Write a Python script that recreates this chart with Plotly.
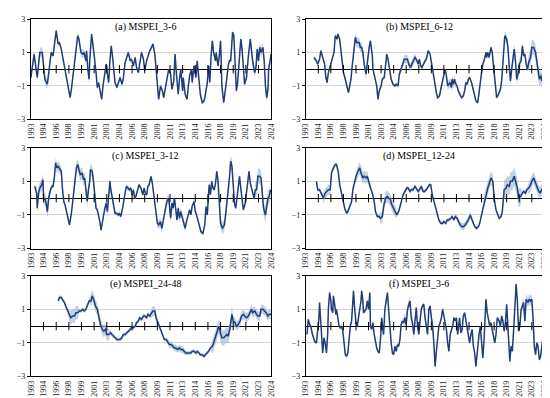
import numpy as np
import plotly.graph_objects as go

# ---------------- axis ticks (months since Jan 1993) ----------------
tick_months = [0, 20, 40, 60, 80, 100, 120, 140, 160, 180, 200, 220, 240, 260, 280, 300, 320, 340, 360, 380]
tick_labels = ["1993", "1994", "1996", "1998", "1999", "2001", "2003", "2004", "2006", "2008",
               "2009", "2011", "2013", "2014", "2016", "2018", "2019", "2021", "2023", "2024"]

titles = ["(a) MSPEI_3-6", "(b) MSPEI_6-12", "(c) MSPEI_3-12",
          "(d) MSPEI_12-24", "(e) MSPEI_24-48", "(f) MSPEI_3-6"]

# ---------------- (a) ----------------
a_month = [0, 5, 10, 14, 18, 22, 26, 30, 32, 35,
           40, 43, 45, 48, 50, 53, 56, 58, 62, 64,
           68, 70, 72, 74, 76, 79, 82, 84, 87, 88,
           90, 92, 93, 95, 96, 98, 100, 101, 103, 105,
           107, 109, 112, 114, 117, 119, 121, 123, 125, 127,
           129, 131, 133, 136, 139, 141, 144, 146, 149, 152,
           154, 157, 159, 162, 165, 167, 170, 172, 175, 178,
           180, 183, 187, 193, 196, 198, 200, 202, 205, 208,
           210, 213, 215, 218, 221, 223, 226, 228, 230, 233,
           235, 237, 240, 241, 244, 247, 249, 251, 254, 255,
           258, 261, 263, 266, 268, 271, 274, 276, 279, 281,
           283, 285, 287, 289, 292, 293, 296, 298, 300, 301,
           302, 305, 307, 310, 312, 314, 316, 319, 321, 323,
           325, 327, 329, 331, 332, 334, 336, 338, 341, 343,
           344, 347, 349, 351, 354, 356, 358, 360, 362, 364,
           367, 369, 371, 373, 375, 376, 378, 380]
a_value = [-0.5, 0.9, -0.5, 1.0, 1.0, -0.6, -0.9, 0.3, 1.0, 0.8,
           2.3, 1.5, 1.6, 1.2, 0.8, 0.0, -0.5, -0.8, -1.7, -1.2,
           0.0, 0.8, 1.2, 2.0, 1.8, 1.0, 0.9, 1.0, 0.5, 1.1,
           0.0, -0.6, 0.5, 1.5, 2.1, 1.5, 1.0, 0.5, -0.2, -1.1,
           -0.8, -1.2, -1.8, -1.0, -0.3, 0.3, -0.3, -0.8, 0.5, 1.4,
           0.8, -0.3, -0.8, -1.1, -0.8, -0.5, -0.9, -0.6, 0.4, 0.7,
           1.0, 0.5, 0.6, 0.2, 0.7, 0.1, -0.2, 0.3, 1.0, 0.6,
           -0.1, 0.5, 1.0, 1.5, 0.9, 0.0, -1.0, -1.8, -1.0, -1.3,
           -1.7, -1.0, -0.8, 0.0, -0.3, -1.2, -0.7, 0.9, -0.2, -1.5,
           -0.6, 0.0, -1.3, -0.5, -1.5, -1.8, -1.0, -0.4, 0.0, -0.8,
           0.2, -0.5, 0.5, -0.5, -1.5, -2.0, -1.9, -1.5, -0.8, 0.2,
           -0.8, 0.8, 1.7, 1.0, 0.5, 1.0, 0.2, 0.8, 1.7, 0.5,
           -1.0, -2.0, -1.5, -0.5, 0.2, 0.5, 0.5, 2.2, 2.0, 0.5,
           -1.3, -0.8, 0.3, 1.0, 1.8, 1.2, 0.0, -0.9, -0.5, 0.5,
           0.8, 1.8, 1.0, 0.4, -0.2, 0.1, 1.2, 0.5, 1.3, 1.0,
           1.3, 0.5, -1.0, -1.7, -1.2, 0.0, 0.4, 0.9]

# ---------------- (b) ----------------
b_month = [13, 17, 19, 22, 24, 27, 30, 32, 34, 36,
           39, 42, 45, 46, 47, 50, 51, 54, 56, 58,
           60, 63, 65, 68, 69, 72, 74, 76, 79, 81,
           85, 87, 89, 91, 93, 96, 98, 101, 103, 106,
           107, 110, 113, 115, 117, 120, 122, 125, 127, 129,
           131, 134, 136, 139, 142, 144, 147, 149, 152, 154,
           157, 159, 162, 164, 167, 169, 171, 174, 176, 179,
           181, 183, 185, 187, 190, 192, 195, 198, 200, 203,
           205, 208, 210, 213, 215, 218, 220, 222, 224, 226,
           228, 230, 232, 233, 235, 237, 238, 241, 243, 246,
           248, 251, 253, 255, 257, 259, 261, 264, 266, 269,
           271, 274, 276, 278, 280, 282, 284, 287, 288, 290,
           292, 295, 297, 299, 302, 304, 307, 310, 312, 314,
           316, 317, 320, 322, 324, 326, 328, 330, 332, 334,
           336, 338, 340, 343, 345, 347, 349, 351, 353, 355,
           358, 360, 363, 366, 368, 370, 372, 374, 376, 378,
           379]
b_value = [0.7, 0.5, 0.3, 0.6, 1.1, 0.6, 0.3, -0.5, -0.8, -0.2,
           0.3, 0.6, 1.0, 1.5, 2.0, 1.8, 2.1, 1.8, 1.0, 0.2,
           -0.2, -0.6, -1.0, -1.4, -1.2, -0.6, 0.2, 1.0, 1.9, 1.6,
           1.6, 1.3, 1.3, 1.0, 0.3, -0.3, 0.5, 1.3, 1.7, 0.8,
           0.0, -0.6, -1.0, -1.8, -1.3, -1.0, -0.6, -0.5, 0.3, 0.9,
           0.6, 0.0, -0.6, -0.9, -1.0, -0.9, -1.0, -0.3, 0.0, 0.3,
           0.6, 0.6, 0.6, 0.3, 0.1, 0.3, 0.5, 0.7, 0.6, 0.3,
           0.6, 0.2, 0.1, 0.3, 0.5, 0.6, 1.1, 0.9, 0.4, -0.2,
           -0.8, -1.4, -1.7, -1.6, -1.2, -0.6, -0.4, 0.0, -0.4, -1.0,
           -0.9, -0.8, -1.1, -0.6, -0.9, -0.6, -0.8, -1.0, -1.3, -1.6,
           -1.7, -1.6, -1.3, -0.8, -0.9, -0.6, -0.5, -0.8, -1.1, -1.6,
           -1.9, -2.0, -1.3, -0.6, -0.2, 0.3, 0.5, 1.0, 0.7, 1.0,
           0.7, 1.3, 1.0, 0.2, -0.8, -1.7, -1.5, -1.2, -0.7, 0.3,
           1.0, 2.0, 1.8, 1.3, 0.2, -0.7, 0.0, 0.6, 1.2, 0.5,
           -0.6, -0.3, 0.3, 0.5, 1.4, 0.8, 0.9, 0.3, 0.0, 0.4,
           0.7, 1.3, 1.3, 1.0, 0.4, -0.3, -0.6, -0.4, -0.7, 0.0,
           0.3]

# ---------------- (c) ----------------
c_month = [6, 9, 10, 12, 14, 17, 19, 20, 22, 24,
           26, 28, 31, 33, 35, 37, 39, 41, 43, 45,
           48, 50, 52, 54, 56, 59, 61, 64, 66, 68,
           70, 72, 74, 76, 78, 81, 83, 85, 87, 89,
           91, 93, 94, 97, 99, 101, 103, 105, 107, 109,
           111, 113, 115, 117, 119, 121, 123, 125, 126, 129,
           131, 133, 135, 138, 140, 142, 145, 147, 149, 151,
           153, 156, 158, 160, 162, 164, 166, 169, 171, 174,
           177, 179, 181, 183, 185, 187, 190, 192, 194, 196,
           198, 200, 202, 205, 207, 210, 213, 215, 218, 219,
           221, 223, 225, 227, 229, 231, 233, 235, 237, 239,
           241, 244, 246, 249, 251, 253, 255, 258, 260, 262,
           264, 267, 269, 272, 275, 277, 279, 281, 282, 284,
           286, 288, 290, 292, 294, 296, 298, 300, 303, 306,
           308, 310, 312, 314, 316, 318, 320, 322, 324, 326,
           328, 330, 332, 334, 336, 339, 341, 343, 345, 347,
           349, 351, 353, 355, 357, 359, 362, 364, 366, 368,
           371, 373, 375, 377, 379]
c_value = [0.7, 0.3, -0.6, 0.3, 0.6, 0.8, 1.1, -0.1, 0.0, -0.3,
           -0.8, 0.0, 0.5, 0.7, 0.7, 1.2, 2.1, 1.8, 1.9, 1.8,
           1.6, 0.5, -0.2, -0.4, -0.8, -1.2, -1.6, -0.9, -0.2, 0.5,
           1.0, 1.8, 2.0, 1.6, 1.4, 1.5, 1.1, 1.2, 0.4, -0.2,
           0.5, 1.0, 1.7, 1.6, 1.0, 0.3, -0.6, -0.7, -1.0, -1.4,
           -1.9, -1.3, -1.0, -0.6, -0.3, -0.8, 0.0, 1.0, 0.6, -0.1,
           -0.5, -0.9, -0.9, -1.0, -0.9, -1.1, -0.6, 0.0, 0.3, 0.7,
           0.6, 0.5, 0.6, 0.2, 0.5, 0.0, 0.1, 0.5, 0.8, 0.6,
           0.2, 0.6, 0.3, 0.2, 0.7, 0.8, 1.3, 0.9, 0.2, -0.5,
           -1.2, -1.5, -1.6, -1.4, -1.8, -1.2, -0.5, -0.2, 0.0, -0.4,
           -1.2, -0.3, -0.6, 0.0, -0.9, -1.3, -0.6, -1.2, -0.8, -1.1,
           -1.3, -1.8, -1.4, -1.0, -0.7, -1.0, -0.5, -0.2, -0.8, -1.0,
           -1.3, -1.8, -2.0, -2.1, -1.6, -0.5, -1.0, 0.2, 0.8, 0.2,
           1.0, 0.6, 0.5, 0.9, 1.6, 1.0, -0.3, -1.5, -1.8, -1.6,
           -1.0, -0.3, 0.3, 1.2, 2.2, 1.9, 0.8, -0.3, -0.6, 0.1,
           0.8, 1.3, 0.6, 0.0, -0.7, -0.3, 0.3, 0.7, 1.6, 0.9,
           0.5, 0.3, 0.0, 0.5, 0.5, 1.3, 1.3, 1.2, 0.3, -0.6,
           -1.0, -0.5, 0.0, 0.1, 0.5]

# ---------------- (d) ----------------
d_month = [17, 19, 22, 24, 26, 28, 31, 34, 36, 39,
           41, 44, 47, 49, 52, 54, 57, 60, 62, 65,
           67, 70, 73, 75, 78, 80, 83, 86, 88, 91,
           93, 96, 98, 101, 104, 106, 109, 111, 114, 117,
           119, 122, 124, 127, 130, 132, 135, 137, 140, 143,
           145, 148, 150, 153, 155, 158, 161, 163, 166, 168,
           171, 174, 176, 179, 181, 184, 187, 189, 192, 194,
           197, 199, 202, 205, 207, 210, 212, 215, 218, 220,
           223, 225, 228, 231, 233, 236, 238, 241, 244, 246,
           249, 251, 254, 256, 259, 262, 264, 267, 269, 272,
           275, 277, 280, 282, 285, 288, 290, 293, 295, 298,
           300, 303, 306, 308, 311, 313, 316, 319, 321, 324,
           326, 329, 332, 334, 337, 339, 342, 345, 347, 350,
           352, 355, 357, 360, 363, 365, 368, 370, 373, 376,
           378]
d_value = [1.0, 0.5, 0.5, 0.3, 0.2, 0.0, 0.3, 0.4, 0.5, 0.5,
           1.5, 1.8, 2.0, 2.0, 1.5, 0.8, 0.2, -0.3, -0.6, -0.9,
           -0.8, -0.5, -0.2, 0.5, 1.0, 1.3, 1.6, 1.8, 1.5, 1.2,
           1.3, 1.2, 1.3, 0.8, 0.5, 0.3, -0.2, -0.8, -1.1, -1.1,
           -1.2, -1.1, -0.5, 0.0, 0.1, 0.0, -0.1, -0.4, -0.6, -0.8,
           -1.0, -0.8, -0.5, -0.2, 0.2, 0.4, 0.6, 0.6, 0.4, 0.5,
           0.5, 0.7, 0.6, 0.4, 0.5, 0.7, 0.4, 0.4, 0.5, 0.6,
           0.8, 0.8, 0.1, -0.3, -0.6, -1.0, -1.3, -1.5, -1.5, -1.4,
           -1.5, -1.3, -1.3, -1.2, -1.1, -1.3, -1.1, -1.2, -1.4, -1.6,
           -1.7, -1.7, -1.6, -1.5, -1.3, -1.0, -1.2, -1.5, -1.7, -1.8,
           -1.7, -1.5, -1.0, -0.5, 0.0, 0.3, 0.6, 1.0, 1.2, 1.0,
           0.0, -0.7, -1.0, -1.2, -1.1, -0.8, 0.5, 0.6, 0.8, 0.7,
           1.0, 1.0, 1.3, 1.0, 0.6, 0.0, 0.1, 0.3, 0.4, 0.3,
           0.5, 0.6, 0.7, 1.0, 1.2, 1.0, 0.6, 0.5, 0.3, 0.5,
           0.4]

# ---------------- (e) ----------------
e_month = [43, 45, 48, 50, 53, 56, 58, 61, 63, 66,
           69, 71, 74, 76, 79, 82, 84, 87, 89, 92,
           95, 97, 100, 102, 105, 107, 110, 113, 115, 118,
           120, 123, 126, 128, 131, 133, 136, 139, 141, 144,
           146, 149, 152, 154, 157, 159, 162, 165, 167, 170,
           172, 175, 178, 180, 183, 185, 188, 191, 193, 196,
           198, 201, 203, 206, 209, 211, 214, 216, 219, 222,
           224, 227, 229, 232, 235, 237, 240, 242, 245, 248,
           250, 253, 255, 258, 261, 263, 266, 268, 271, 274,
           276, 279, 281, 284, 287, 289, 292, 294, 297, 300,
           302, 305, 307, 310, 312, 315, 318, 320, 323, 325,
           328, 331, 333, 336, 338, 341, 344, 346, 349, 351,
           354, 357, 359, 362, 364, 367, 370, 372, 375, 377,
           380]
e_value = [1.5, 1.7, 1.7, 1.6, 1.4, 1.1, 0.9, 0.6, 0.5, 0.6,
           0.6, 0.8, 0.8, 0.9, 0.9, 1.0, 0.9, 1.0, 1.2, 1.5,
           1.5, 1.8, 1.5, 1.2, 1.0, 0.6, 0.1, -0.2, -0.3, -0.2,
           -0.5, -0.5, -0.4, -0.5, -0.6, -0.7, -0.8, -0.8, -0.8, -0.7,
           -0.5, -0.5, -0.4, -0.3, -0.2, -0.1, -0.1, 0.0, 0.2, 0.3,
           0.5, 0.4, 0.6, 0.6, 0.5, 0.7, 0.6, 0.8, 0.9, 0.9,
           0.5, 0.2, 0.0, -0.3, -0.7, -0.8, -0.8, -0.9, -1.1, -1.1,
           -1.2, -1.3, -1.3, -1.4, -1.3, -1.4, -1.4, -1.5, -1.6, -1.6,
           -1.6, -1.6, -1.5, -1.5, -1.6, -1.5, -1.6, -1.7, -1.7, -1.8,
           -1.7, -1.6, -1.5, -1.3, -1.2, -1.0, -0.7, -0.4, 0.0, -0.4,
           -0.7, -0.7, -0.6, -0.5, -0.6, -0.1, 0.7, 0.3, 0.2, 0.0,
           0.1, 0.3, 0.6, 0.7, 0.6, 0.5, 0.6, 0.8, 1.0, 0.8,
           0.9, 0.7, 0.6, 0.6, 1.0, 1.0, 0.9, 0.8, 0.6, 0.7,
           0.7]

# ---------------- (f) ----------------
f_month = [2, 4, 6, 8, 10, 12, 14, 17, 19, 21,
           22, 24, 25, 27, 29, 31, 33, 35, 36, 38,
           40, 41, 43, 44, 46, 48, 49, 51, 53, 55,
           57, 59, 61, 63, 65, 67, 69, 71, 73, 75,
           76, 78, 80, 82, 84, 86, 88, 89, 91, 92,
           94, 96, 98, 100, 102, 103, 105, 107, 109, 111,
           113, 115, 117, 119, 121, 123, 124, 126, 128, 130,
           132, 134, 136, 138, 140, 142, 144, 146, 148, 150,
           152, 154, 156, 158, 160, 162, 164, 166, 168, 170,
           172, 174, 176, 178, 180, 182, 184, 186, 188, 190,
           192, 194, 196, 198, 200, 202, 204, 206, 208, 210,
           212, 214, 216, 218, 220, 222, 224, 226, 228, 230,
           232, 234, 236, 238, 240, 242, 245, 247, 249, 251,
           253, 255, 257, 259, 261, 263, 265, 267, 269, 271,
           274, 276, 278, 280, 282, 284, 286, 287, 289, 291,
           293, 295, 297, 299, 301, 303, 305, 308, 310, 312,
           314, 316, 318, 320, 322, 325, 327, 329, 331, 333,
           335, 337, 339, 341, 343, 345, 347, 349, 351, 354,
           356, 358, 360, 362, 364, 366, 368, 370, 372, 374,
           376, 378, 380]
f_value = [-0.5, 0.4, 0.1, 0.0, -0.4, -0.6, -0.9, -1.0, -0.3, 0.5,
           1.4, 0.0, -1.0, -1.6, -0.7, -1.0, -1.6, -0.4, 1.0, 2.0,
           1.5, 1.0, 0.8, 1.8, 1.3, 0.7, 1.0, 0.5, 0.0, -0.1,
           0.0, -0.3, -1.3, -1.7, -1.8, -1.6, -0.8, 0.0, 0.3, 1.2,
           2.1, 1.0, 0.2, 0.0, 0.5, 1.0, 1.5, 2.1, 1.5, 0.8,
           0.9, 1.0, 1.5, 1.0, 2.0, 0.0, -0.2, 0.2, -0.5, -1.0,
           -1.3, -1.5, -1.6, -0.8, 0.5, -0.3, -0.5, 1.0, 1.6, 2.0,
           1.0, -0.3, -1.0, -1.6, -1.7, -1.2, -1.5, -1.1, -1.2, -0.8,
           0.1, 0.3, 0.2, 0.5, 0.1, 1.0, 1.2, 1.5, 0.5, 0.2,
           -0.5, 0.4, 1.1, 0.0, -0.5, 0.3, 1.0, 1.2, 1.3, 0.5,
           0.0, -0.5, 1.0, 1.2, 0.5, 0.0, -1.0, -2.4, -1.5, -0.5,
           0.0, 0.2, 0.5, 1.0, 0.5, 0.0, -0.2, -1.0, -1.5, -0.5,
           -0.2, 0.0, 0.5, 0.3, 0.5, -0.5, 0.5, -0.4, -0.2, 0.6,
           0.8, 0.3, -0.3, -0.7, -1.0, -0.5, -0.2, -1.2, -1.6, -2.4,
           -1.0, -0.5, 0.0, -1.0, -1.9, -0.8, 0.5, 1.6, 0.8, 0.3,
           0.0, 0.2, -0.3, -0.5, -1.0, -0.5, 0.5, 0.3, 0.0, 0.6,
           0.3, -0.3, 0.2, 1.3, 0.0, -2.1, -1.2, -1.5, -0.3, 1.0,
           2.5, 1.5, -0.3, 0.0, 1.0, 1.2, 1.4, 0.3, 1.6, 1.4,
           1.6, 1.5, 1.6, 0.5, -1.2, -1.7, -1.0, -1.2, -2.0, -1.8,
           -1.2, -0.6, -0.4]

# uncertainty band half-width by period: (start month, end month, half-width)
default_band = 0.12
a_band = [(12, 30, 0.3), (72, 95, 0.25), (350, 381, 0.3)]
b_band = [(75, 100, 0.3), (150, 175, 0.25), (225, 240, 0.25), (315, 345, 0.3), (355, 381, 0.45)]
c_band = [(8, 30, 0.35), (38, 50, 0.3), (72, 100, 0.35), (118, 130, 0.3), (200, 245, 0.25),
          (300, 320, 0.35), (355, 381, 0.45)]
d_band = [(28, 40, 0.3), (80, 100, 0.35), (118, 145, 0.35), (240, 265, 0.2), (285, 300, 0.4),
          (316, 345, 0.55), (355, 381, 0.35)]
e_band = [(60, 75, 0.4), (95, 125, 0.35), (190, 200, 0.3), (215, 245, 0.2), (285, 320, 0.45),
          (320, 381, 0.28)]
f_band = [(155, 175, 0.3), (200, 210, 0.3), (345, 365, 0.3)]

panels = [(a_month, a_value, a_band), (b_month, b_value, b_band), (c_month, c_value, c_band),
          (d_month, d_value, d_band), (e_month, e_value, e_band), (f_month, f_value, f_band)]

col_x = [[0.035, 0.479], [0.543, 0.984]]
row_y = [[0.724, 0.982], [0.392, 0.651], [0.063, 0.322]]

LINE = "#1f3e78"
BAND = "rgba(160,185,215,0.65)"
FONT = "Liberation Serif"

fig = go.Figure()
for i, (months, vals, bands) in enumerate(panels):
    k = i + 1
    sx = "" if k == 1 else str(k)
    months = np.array(months, dtype=float)
    vals = np.array(vals, dtype=float)
    hw = np.full(len(months), default_band)
    for s, e, w in bands:
        hw[(months >= s) & (months < e)] = w
    fig.add_trace(go.Scatter(x=months, y=vals + hw, mode="lines", line=dict(width=0),
                             xaxis="x" + sx, yaxis="y" + sx, hoverinfo="skip", showlegend=False))
    fig.add_trace(go.Scatter(x=months, y=vals - hw, mode="lines", line=dict(width=0),
                             fill="tonexty", fillcolor=BAND,
                             xaxis="x" + sx, yaxis="y" + sx, hoverinfo="skip", showlegend=False))
    fig.add_trace(go.Scatter(x=months, y=vals, mode="lines", line=dict(color=LINE, width=1.5),
                             xaxis="x" + sx, yaxis="y" + sx, showlegend=False))
    fig.add_trace(go.Scatter(x=tick_months[1:-1], y=[0] * (len(tick_months) - 2), mode="markers",
                             marker=dict(symbol="line-ns", size=6, line=dict(color="black", width=1)),
                             xaxis="x" + sx, yaxis="y" + sx, hoverinfo="skip", showlegend=False))
    r, c = divmod(i, 2)
    fig.update_layout(**{
        "xaxis" + sx: dict(domain=col_x[c], anchor="y" + sx, range=[0, 380],
                           tickvals=tick_months, ticktext=tick_labels, tickangle=-90,
                           showgrid=False, zeroline=False, ticks="",
                           showline=True, linecolor="black", linewidth=1, mirror=True,
                           tickfont=dict(family=FONT, size=8, color="#222")),
        "yaxis" + sx: dict(domain=row_y[r], anchor="x" + sx, range=[-3, 3],
                           tickvals=[-3, -1, 1, 3], ticks="outside", ticklen=3, tickcolor="black",
                           showgrid=True, gridcolor="#d4d4d4", gridwidth=1,
                           zeroline=True, zerolinecolor="black", zerolinewidth=1.3,
                           showline=True, linecolor="black", linewidth=1, mirror=True,
                           tickfont=dict(family=FONT, size=8, color="#222")),
    })
    fig.add_annotation(text=titles[i], xref="x" + sx + " domain", yref="y" + sx + " domain",
                       x=0.475, y=0.92, xanchor="center", yanchor="middle", showarrow=False,
                       font=dict(family=FONT, size=10, color="black"))

fig.update_layout(width=550, height=398, margin=dict(l=0, r=0, t=0, b=0),
                  paper_bgcolor="white", plot_bgcolor="white")
fig.write_html("out.html")
